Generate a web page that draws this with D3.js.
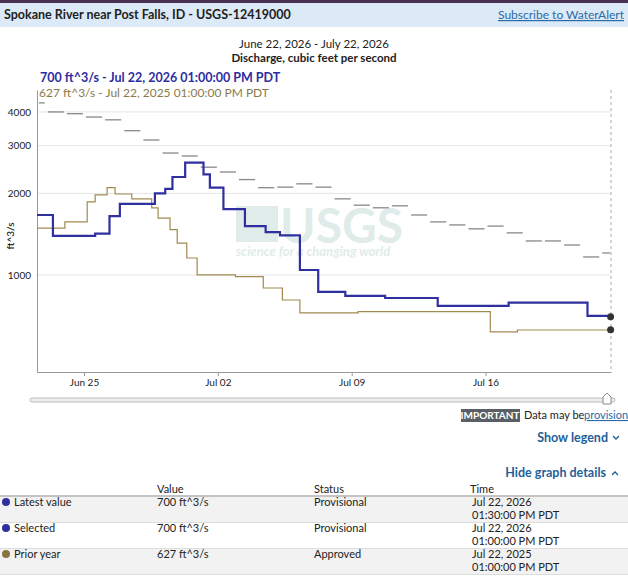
<!DOCTYPE html>
<html><head><meta charset="utf-8">
<script src="https://cdn.jsdelivr.net/npm/d3@7"></script>
<style>
body{margin:0;background:#fff;font-family:"Source Sans Pro","Lato","Noto Sans",sans-serif;}
svg text{font-family:"Lato","Noto Sans",sans-serif;}
</style></head><body>
<svg id="c" width="628" height="576"></svg>
<script>
const currentYear = [
["2026-06-22T13:00",1665],["2026-06-23T09:00",1393],["2026-06-25T14:00",1420],["2026-06-26T08:00",1650],
["2026-06-26T21:00",1830],["2026-06-28T17:00",2000],["2026-06-29T06:00",2080],["2026-06-29T15:00",2300],
["2026-06-30T07:00",2600],["2026-07-01T06:00",2350],["2026-07-01T14:00",2100],["2026-07-02T07:00",1750],
["2026-07-03T10:00",1515],["2026-07-04T12:00",1440],["2026-07-05T06:00",1400],["2026-07-06T07:00",1043],
["2026-07-07T06:00",866],["2026-07-08T16:00",837],["2026-07-10T18:00",822],["2026-07-13T12:00",768],
["2026-07-17T05:00",790],["2026-07-21T08:00",706],["2026-07-22T13:00",700]];
const priorYear = [
["2026-06-22T13:00",1490],["2026-06-24T00:00",1570],["2026-06-25T04:00",1860],["2026-06-25T14:00",1975],
["2026-06-26T05:00",2100],["2026-06-26T15:00",1990],["2026-06-27T12:00",1910],["2026-06-28T13:00",1770],
["2026-06-28T21:00",1620],["2026-06-29T12:00",1470],["2026-06-29T21:00",1310],["2026-06-30T09:00",1155],
["2026-06-30T22:00",1000],["2026-07-02T22:00",985],["2026-07-04T09:00",895],["2026-07-05T09:00",808],
["2026-07-06T07:00",724],["2026-07-09T08:00",732],["2026-07-16T06:00",616],["2026-07-17T16:00",626],
["2026-07-22T13:00",627]];
const medianDays = ["06-22","06-23","06-24","06-25","06-26","06-27","06-28","06-29","06-30","07-01","07-02","07-03","07-04","07-05","07-06","07-07","07-08","07-09","07-10","07-11","07-12","07-13","07-14","07-15","07-16","07-17","07-18","07-19","07-20","07-21","07-22"];
const medianValues = [4320,4000,3940,3830,3740,3410,3150,2820,2750,2500,2400,2250,2100,2110,2170,2110,1910,1810,1770,1800,1665,1570,1530,1480,1515,1430,1335,1335,1290,1165,1205];
const yTicks = [1000,2000,3000,4000];
const xTicks = ["2026-06-25","2026-07-02","2026-07-09","2026-07-16"];

const svg = d3.select("#c");
const pd = d3.timeParse("%Y-%m-%dT%H:%M");
const start = pd("2026-06-22T13:00"), end = pd("2026-07-22T13:30");
const x = d3.scaleTime().domain([start,end]).range([37,611]);
const y = d3.scaleLog().domain([438,4820]).range([372,90]);

// header
svg.append("rect").attr("x",0).attr("y",0).attr("width",628).attr("height",3).attr("fill","#4a3150");
svg.append("rect").attr("x",0).attr("y",3).attr("width",628).attr("height",24).attr("fill","#dce9f6");
svg.append("text").attr("x",4).attr("y",19).attr("font-size",12.5).attr("font-weight","bold").attr("fill","#222").text("Spokane River near Post Falls, ID - USGS-12419000");
svg.append("text").attr("x",624).attr("y",19).attr("text-anchor","end").attr("font-size",12).attr("fill","#2b6aa8").attr("text-decoration","underline").text("Subscribe to WaterAlert");
svg.append("text").attr("x",314).attr("y",48).attr("text-anchor","middle").attr("font-size",11.5).attr("fill","#222").text("June 22, 2026 - July 22, 2026");
svg.append("text").attr("x",314).attr("y",62).attr("text-anchor","middle").attr("font-size",11.5).attr("font-weight","bold").attr("fill","#222").text("Discharge, cubic feet per second");
svg.append("text").attr("x",40).attr("y",82).attr("font-size",12.5).attr("font-weight","bold").attr("fill","#2e2e9e").text("700 ft^3/s - Jul 22, 2026 01:00:00 PM PDT");
svg.append("text").attr("x",39).attr("y",97).attr("font-size",12).attr("fill","#8a7a4a").text("627 ft^3/s - Jul 22, 2025 01:00:00 PM PDT");

// watermark
const wm = svg.append("g").attr("fill","#dfece9");
wm.append("rect").attr("x",236).attr("y",206).attr("width",42).attr("height",36);
wm.append("text").attr("x",280).attr("y",243).attr("font-size",48).attr("font-weight","bold").attr("font-family","Liberation Sans, sans-serif").text("USGS");
wm.append("text").attr("x",236).attr("y",256).attr("font-size",13).attr("font-style","italic").attr("font-weight","bold").attr("font-family","Liberation Sans, sans-serif").text("science for a changing world");

// grid
svg.selectAll(".g").data(yTicks).join("line").attr("x1",37).attr("x2",611)
  .attr("y1",d=>y(d)).attr("y2",d=>y(d)).attr("stroke","#e6e6e6");
// axes
const ya = svg.append("g").attr("transform","translate(37,0)")
  .call(d3.axisLeft(y).tickValues(yTicks).tickFormat(d3.format("d")).tickSize(0).tickPadding(6));
ya.select(".domain").attr("stroke","#999");
ya.selectAll("text").attr("font-size",10).attr("font-family","Liberation Sans, sans-serif").attr("fill","#222");
const xa = svg.append("g").attr("transform","translate(0,372)")
  .call(d3.axisBottom(x).tickValues(xTicks.map(d3.timeParse("%Y-%m-%d"))).tickFormat(d3.timeFormat("%b %d")).tickSize(4).tickSizeOuter(0));
xa.select(".domain").attr("stroke","#999");
xa.selectAll("line").attr("stroke","#999");
xa.selectAll("text").attr("font-size",10).attr("font-family","Liberation Sans, sans-serif").attr("fill","#222");
svg.append("text").attr("transform","translate(14,236) rotate(-90)").attr("text-anchor","middle").attr("font-size",10).attr("font-family","Liberation Sans, sans-serif").text("ft^3/s");
svg.append("line").attr("x1",611).attr("x2",611).attr("y1",90).attr("y2",372).attr("stroke","#aaa").attr("stroke-dasharray","3,3");

// median dashes
const pday = d3.timeParse("%Y-%m-%d");
svg.selectAll(".m").data(medianDays.map((d,i)=>({d:pday("2026-"+d),v:medianValues[i]}))).join("line")
  .attr("x1",d=>x(d3.max([d.d,start]))+2).attr("x2",d=>Math.min(x(d3.timeDay.offset(d.d,1)),611)-1)
  .attr("y1",d=>y(d.v)).attr("y2",d=>y(d.v)).attr("stroke","#888").attr("stroke-width",1.3);

const line = d3.line().curve(d3.curveStepAfter).x(d=>x(pd(d[0]))).y(d=>y(d[1]));
svg.append("path").attr("d",line(priorYear)).attr("fill","none").attr("stroke","#a08a50").attr("stroke-width",1.2);
svg.append("path").attr("d",line(currentYear)).attr("fill","none").attr("stroke","#2f2fa0").attr("stroke-width",2.2);
[currentYear,priorYear].forEach(s=>{const l=s[s.length-1];
  svg.append("circle").attr("cx",x(pd(l[0]))).attr("cy",y(l[1])).attr("r",3.5).attr("fill","#333");});

// slider
svg.append("rect").attr("x",30).attr("y",398).attr("width",585).attr("height",4).attr("rx",2).attr("fill","#eee").attr("stroke","#bbb");
svg.append("path").attr("d","M603,404 L603,397 L607,393 L611,397 L611,404 Z").attr("fill","#fff").attr("stroke","#888");
// important
svg.append("rect").attr("x",461).attr("y",409).attr("width",59).attr("height",13).attr("fill","#5a5f66");
svg.append("text").attr("x",490).attr("y",419).attr("text-anchor","middle").attr("font-size",10).attr("font-weight","bold").attr("fill","#fff").text("IMPORTANT");
svg.append("text").attr("x",524).attr("y",419).attr("font-size",11).attr("fill","#222").text("Data may be");
svg.append("text").attr("x",584).attr("y",419).attr("font-size",11).attr("fill","#2b6aa8").attr("text-decoration","underline").text("provisional");
svg.append("text").attr("x",608).attr("y",442).attr("text-anchor","end").attr("font-size",12.5).attr("font-weight","bold").attr("fill","#1f5f99").text("Show legend");
svg.append("path").attr("d","M613,436 l3,3 l3,-3").attr("fill","none").attr("stroke","#1f5f99").attr("stroke-width",1.3);
svg.append("text").attr("x",606).attr("y",477).attr("text-anchor","end").attr("font-size",12.5).attr("font-weight","bold").attr("fill","#1f5f99").text("Hide graph details");
svg.append("path").attr("d","M612,475 l3,-3 l3,3").attr("fill","none").attr("stroke","#1f5f99").attr("stroke-width",1.3);

// table
const rows = [["Latest value","700 ft^3/s","Provisional","Jul 22, 2026","01:30:00 PM PDT","#2f2fa0"],
["Selected","700 ft^3/s","Provisional","Jul 22, 2026","01:00:00 PM PDT","#2f2fa0"],
["Prior year","627 ft^3/s","Approved","Jul 22, 2025","01:00:00 PM PDT","#8a7440"]];
const hy=493;
[["Value",157],["Status",314],["Time",470]].forEach(h=>svg.append("text").attr("x",h[1]).attr("y",hy).attr("font-size",11).attr("fill","#222").text(h[0]));
svg.append("line").attr("x1",0).attr("x2",628).attr("y1",496).attr("y2",496).attr("stroke","#888");
rows.forEach((r,i)=>{const ty=497+i*26;
  svg.append("rect").attr("x",0).attr("y",ty).attr("width",628).attr("height",25).attr("fill",i==1?"#fff":"#f2f2f2");
  svg.append("line").attr("x1",0).attr("x2",628).attr("y1",ty+25.5).attr("y2",ty+25.5).attr("stroke","#ddd");
  svg.append("circle").attr("cx",6).attr("cy",ty+5).attr("r",4).attr("fill",r[5]);
  svg.append("text").attr("x",14).attr("y",ty+9).attr("font-size",11).attr("fill","#222").text(r[0]);
  svg.append("text").attr("x",157).attr("y",ty+9).attr("font-size",11).attr("fill","#222").text(r[1]);
  svg.append("text").attr("x",314).attr("y",ty+9).attr("font-size",11).attr("fill","#222").text(r[2]);
  svg.append("text").attr("x",472).attr("y",ty+9).attr("font-size",11).attr("fill","#222").text(r[3]);
  svg.append("text").attr("x",472).attr("y",ty+22).attr("font-size",11).attr("fill","#222").text(r[4]);
});
</script></body></html>
